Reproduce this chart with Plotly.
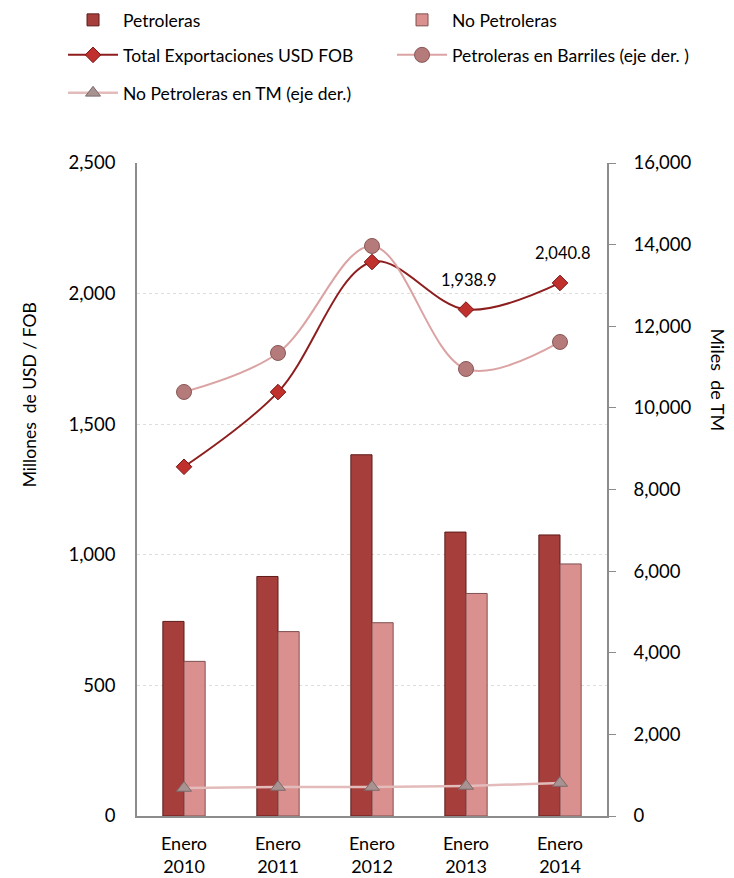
import plotly.graph_objects as go

categorias = ["Enero<br>2010", "Enero<br>2011", "Enero<br>2012", "Enero<br>2013", "Enero<br>2014"]
petroleras = [745, 917, 1383, 1087, 1076]
no_petroleras = [592, 706, 740, 852, 965]
total_export = [1337, 1623, 2121, 1938.9, 2040.8]
petroleras_barriles = [10390, 11345, 13967, 10953, 11615]
no_petroleras_tm = [686, 710, 710, 735, 808]
indices_etiqueta = [3, 4]

FONT = "Lato, 'Open Sans', sans-serif"

fig = go.Figure()

fig.add_trace(go.Bar(
    x=categorias, y=petroleras, name="Petroleras",
    marker=dict(color="#A63F3C", line=dict(color="#5E1B1A", width=1)),
    legend="legend", yaxis="y",
))
fig.add_trace(go.Bar(
    x=categorias, y=no_petroleras, name="No Petroleras",
    marker=dict(color="#D9908E", line=dict(color="#7E5150", width=1)),
    legend="legend2", yaxis="y",
))
fig.add_trace(go.Scatter(
    x=categorias, y=total_export, name="Total Exportaciones USD FOB",
    mode="lines+markers", line=dict(color="#8E1E1E", width=2, shape="spline", smoothing=1),
    marker=dict(symbol="diamond", size=12, color="#C0302D", line=dict(color="#7A1414", width=1)),
    legend="legend3", yaxis="y",
))
fig.add_trace(go.Scatter(
    x=categorias, y=petroleras_barriles, name="Petroleras en Barriles (eje der. )",
    mode="lines+markers", line=dict(color="#DBA3A3", width=2, shape="spline", smoothing=1),
    marker=dict(symbol="circle", size=15, color="#B57B7B", line=dict(color="#8A5656", width=1)),
    legend="legend4", yaxis="y2",
))
fig.add_trace(go.Scatter(
    x=categorias, y=no_petroleras_tm, name="No Petroleras en TM (eje der.)",
    mode="lines+markers", line=dict(color="#E3BBBB", width=2.5),
    marker=dict(symbol="triangle-up", size=13, color="#A89292", line=dict(color="#7C6A6A", width=1)),
    legend="legend5", yaxis="y2",
))

annotations = []
for i in indices_etiqueta:
    annotations.append(dict(
        x=categorias[i], y=total_export[i], xref="x", yref="y",
        text=f"{total_export[i]:,.1f}", showarrow=False, yshift=30, xshift=3,
        font=dict(family=FONT, size=16.5, color="#000"),
    ))
annotations.append(dict(
    x=-0.228, y=0.6455, xref="paper", yref="paper", text="Millones  de USD / FOB",
    xanchor="center", yanchor="middle",
    textangle=-90, showarrow=False, font=dict(family=FONT, size=17.5, color="#000"),
))
annotations.append(dict(
    x=1.236, y=0.667, xref="paper", yref="paper", text="Miles  de TM",
    xanchor="center", yanchor="middle",
    textangle=90, showarrow=False, font=dict(family=FONT, size=18, color="#000"),
))

legend_common = dict(
    orientation="h", xanchor="left", yanchor="middle", bgcolor="rgba(0,0,0,0)",
    font=dict(family=FONT, size=17.5, color="#000"), itemclick=False, itemwidth=50,
)
COL1, COL2 = -0.1574, 0.5426
ROW1, ROW2, ROW3 = 1.219, 1.1654, 1.1072

fig.update_layout(
    width=726, height=870,
    margin=dict(l=129, r=127, t=155, b=62, autoexpand=False),
    paper_bgcolor="white", plot_bgcolor="white",
    barmode="group", bargap=0.55, bargroupgap=0,
    font=dict(family=FONT, size=17, color="#000"),
    showlegend=True,
    legend=dict(x=COL1, y=ROW1, **legend_common),
    legend2=dict(x=COL2, y=ROW1, **legend_common),
    legend3=dict(x=COL1, y=ROW2, **legend_common),
    legend4=dict(x=COL2, y=ROW2, **legend_common),
    legend5=dict(x=COL1, y=ROW3, **legend_common),
    xaxis=dict(
        showline=True, linecolor="#8C8C8C", linewidth=2, ticks="",
        tickfont=dict(family=FONT, size=18), showgrid=False, ticklabelstandoff=10,
    ),
    yaxis=dict(
        range=[0, 2500], dtick=500, tickformat=",", showline=True,
        linecolor="#8C8C8C", linewidth=1.5, ticks="", ticklabelstandoff=16,
        showgrid=True, gridcolor="#DDDDDD", griddash="dot", zeroline=False,
        tickfont=dict(family=FONT, size=18.5),
    ),
    yaxis2=dict(
        range=[0, 16000], dtick=2000, tickformat=",", overlaying="y", side="right",
        showline=True, linecolor="#8C8C8C", linewidth=1.5, ticks="outside",
        ticklen=7, tickcolor="#8C8C8C", ticklabelstandoff=14,
        showgrid=False, zeroline=False, tickfont=dict(family=FONT, size=18.5),
    ),
    annotations=annotations,
)

fig.write_html("out.html")
